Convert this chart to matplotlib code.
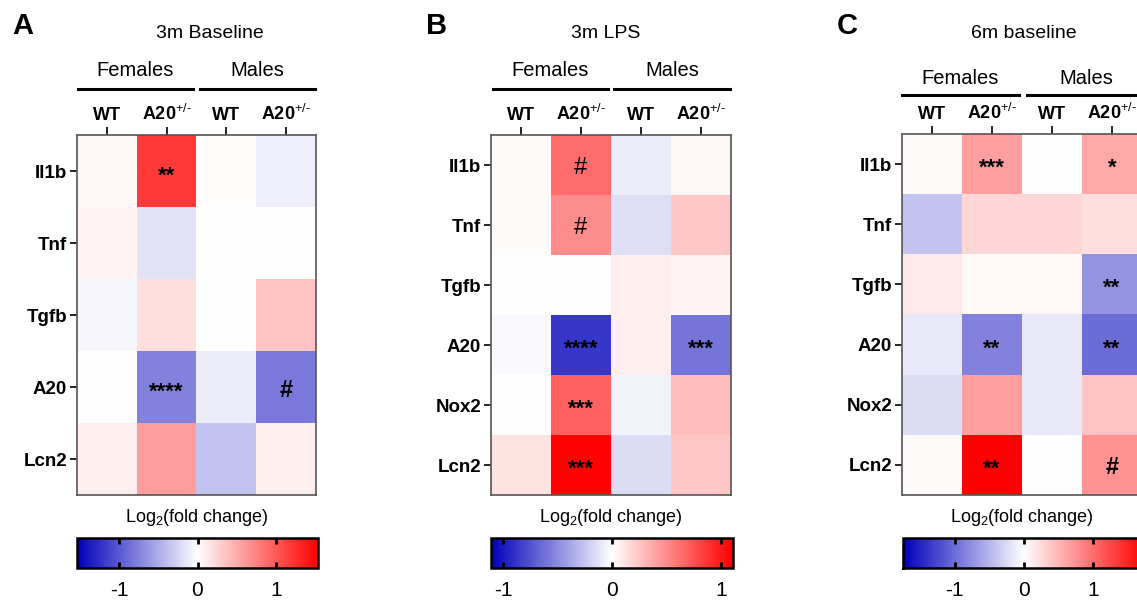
import numpy as np
import matplotlib
matplotlib.use('Agg')
import matplotlib.pyplot as plt
from matplotlib.colors import LinearSegmentedColormap
from matplotlib.lines import Line2D

plt.rcParams['font.family'] = ['Liberation Sans', 'DejaVu Sans']
plt.rcParams['mathtext.fontset'] = 'custom'
plt.rcParams['mathtext.rm'] = 'Liberation Sans'
plt.rcParams['mathtext.it'] = 'Liberation Sans'
plt.rcParams['mathtext.bf'] = 'Liberation Sans:bold'
plt.rcParams['axes.unicode_minus'] = False

W, H = 1137, 602

columns = ['WT', r'A20$^{\text{+/-}}$', 'WT', r'A20$^{\text{+/-}}$']
groups = ['Females', 'Males']

# panel A: 3m Baseline
genes_a = ['Il1b', 'Tnf', 'Tgfb', 'A20', 'Lcn2']
vals_a = [[0.05, 1.20, 0.02, -0.10],
          [0.08, -0.18, 0.01, 0.00],
          [-0.06, 0.20, 0.01, 0.35],
          [0.01, -0.75, -0.12, -0.80],
          [0.10, 0.60, -0.35, 0.10]]
stars_a = [['', '**', '', ''],
           ['', '', '', ''],
           ['', '', '', ''],
           ['', '****', '', '#'],
           ['', '', '', '']]

# panel B: 3m LPS
genes_b = ['Il1b', 'Tnf', 'Tgfb', 'A20', 'Nox2', 'Lcn2']
vals_b = [[0.02, 0.64, -0.08, 0.04],
          [0.02, 0.50, -0.14, 0.25],
          [0.00, 0.00, 0.07, 0.05],
          [-0.03, -0.87, 0.07, -0.60],
          [0.00, 0.69, -0.06, 0.29],
          [0.13, 1.10, -0.15, 0.25]]
stars_b = [['', '#', '', ''],
           ['', '#', '', ''],
           ['', '', '', ''],
           ['', '****', '', '***'],
           ['', '***', '', ''],
           ['', '***', '', '']]

# panel C: 6m baseline
genes_c = ['Il1b', 'Tnf', 'Tgfb', 'A20', 'Nox2', 'Lcn2']
vals_c = [[0.03, 0.66, 0.00, 0.60],
          [-0.40, 0.28, 0.28, 0.23],
          [0.16, 0.05, 0.05, -0.73],
          [-0.16, -0.86, -0.16, -1.00],
          [-0.24, 0.66, -0.16, 0.40],
          [0.03, 1.75, 0.01, 0.73]]
stars_c = [['', '***', '', '*'],
           ['', '', '', ''],
           ['', '', '', '**'],
           ['', '**', '', '**'],
           ['', '', '', ''],
           ['', '**', '', '#']]

cmap = LinearSegmentedColormap.from_list('bwr2', [(0, 0, 0.73), (1, 1, 1), (1, 0, 0)])


def box(x0, y0, x1, y1):
    return [x0 / W, 1 - y1 / H, (x1 - x0) / W, (y1 - y0) / H]


def ftext(x, y, s, **kw):
    fig.text(x / W, 1 - y / H, s, ha='center', va='center', **kw)


fig = plt.figure(figsize=(W / 100, H / 100), dpi=100)

panels = [
    dict(letter='A', title='3m Baseline', genes=genes_a, vals=vals_a, stars=stars_a,
         hm=(77, 135, 316, 495), cb=(77, 538, 318, 568), vmax=1.54,
         title_x=210, grp_y=70, line_y=89,
         lines=[(78, 193), (200, 315)], hash_bold=True),
    dict(letter='B', title='3m LPS', genes=genes_b, vals=vals_b, stars=stars_b,
         hm=(491, 135, 731, 495), cb=(491, 538, 733, 568), vmax=1.11,
         title_x=606, grp_y=70, line_y=89,
         lines=[(493, 608), (614, 730)], hash_bold=False),
    dict(letter='C', title='6m baseline', genes=genes_c, vals=vals_c, stars=stars_c,
         hm=(902, 134, 1142, 495), cb=(903, 538, 1145, 568), vmax=1.75,
         title_x=1024, grp_y=78, line_y=95,
         lines=[(902, 1019), (1027, 1145)], hash_bold=True),
]

for p in panels:
    x0, y0, x1, y1 = p['hm']
    ax = fig.add_axes(box(*p['hm']))
    data = np.array(p['vals'])
    im = ax.imshow(data, cmap=cmap, vmin=-p['vmax'], vmax=p['vmax'],
                   aspect='auto', interpolation='nearest')
    ax.set_xticks(range(4))
    ax.set_xticklabels(columns, fontsize=13, fontweight='bold')
    ax.xaxis.tick_top()
    ax.set_yticks(range(len(p['genes'])))
    ax.set_yticklabels(p['genes'], fontsize=13.5, fontweight='bold')
    ax.tick_params(axis='x', length=6, width=1.2, pad=2)
    ax.tick_params(axis='y', length=5, width=1.2, pad=2)
    for s in ax.spines.values():
        s.set_color('#555555')
        s.set_linewidth(1.2)
    for i, row in enumerate(p['stars']):
        for j, s in enumerate(row):
            if not s:
                continue
            if s == '#':
                ax.text(j, i + 0.05, s, ha='center', va='center', fontsize=17,
                        fontweight='bold' if p['hash_bold'] else 'normal')
            else:
                ax.text(j, i + 0.07, s, ha='center', va='center', fontsize=16,
                        fontweight='bold')

    # colorbar
    cax = fig.add_axes(box(*p['cb']))
    cb = fig.colorbar(im, cax=cax, orientation='horizontal', ticks=[-1, 0, 1])
    cb.outline.set_linewidth(1.8)
    cax.tick_params(axis='x', direction='in', length=4, width=2, top=True,
                    bottom=True, labelsize=15, pad=9)
    cax.set_xticklabels(['-1', '0', '1'])

    cx = (x0 + x1) / 2
    ftext(cx, 518, r'Log$_2$(fold change)', fontsize=13)
    ftext(p['title_x'], 33, p['title'], fontsize=14)
    fig.text((p['hm'][0] - 65) / W, 1 - 26 / H, p['letter'], ha='left', va='center',
             fontsize=21, fontweight='bold')
    for (lx0, lx1), g in zip(p['lines'], groups):
        fig.add_artist(Line2D([lx0 / W, lx1 / W], [1 - p['line_y'] / H] * 2,
                              color='black', lw=2.2))
        ftext((lx0 + lx1) / 2, p['grp_y'], g, fontsize=14.5)

fig.savefig('out.png', dpi=100)
